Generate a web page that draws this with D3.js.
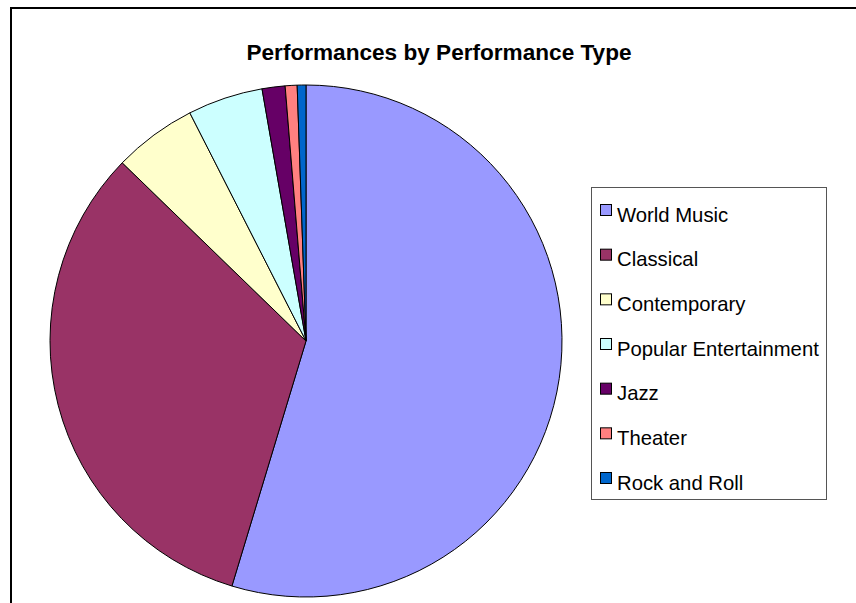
<!DOCTYPE html>
<html>
<head>
<meta charset="utf-8">
<script src="https://cdn.jsdelivr.net/npm/d3@7"></script>
<style>
  html, body { margin: 0; padding: 0; background: #fff; }
  svg { display: block; font-family: Arial, "Liberation Sans", sans-serif; }
</style>
</head>
<body>
<svg id="chart" width="856" height="603"></svg>
<script>
// Share of performances by type (percent)
const categories = ["World Music", "Classical", "Contemporary", "Popular Entertainment", "Jazz", "Theater", "Rock and Roll"];
const values = [54.7, 32.6, 5.25, 4.75, 1.45, 0.75, 0.55];
const colors = ["#9999FF", "#993366", "#FFFFCC", "#CCFFFF", "#660066", "#FF8080", "#0066CC"];
const title = "Performances by Performance Type";

const svg = d3.select("#chart");

// Chart area frame (runs off the right and bottom edges)
svg.append("rect")
  .attr("x", 11).attr("y", 8)
  .attr("width", 900).attr("height", 700)
  .attr("fill", "none").attr("stroke", "#000").attr("stroke-width", 2);

svg.append("text")
  .attr("x", 439).attr("y", 60)
  .attr("text-anchor", "middle")
  .attr("font-size", 22.6).attr("font-weight", "bold")
  .text(title);

const data = categories.map((c, i) => ({ name: c, value: values[i], color: colors[i] }));

const pie = d3.pie().value(d => d.value).sort(null);
const arc = d3.arc().innerRadius(0).outerRadius(256);

const g = svg.append("g").attr("transform", "translate(306,341)");
g.selectAll("path")
  .data(pie(data))
  .join("path")
  .attr("d", arc)
  .attr("fill", d => d.data.color)
  .attr("stroke", "#000")
  .attr("stroke-width", 1)
  .attr("stroke-linejoin", "round");

// Legend
const legend = svg.append("g");
legend.append("rect")
  .attr("x", 591.5).attr("y", 187.5)
  .attr("width", 235).attr("height", 312)
  .attr("fill", "#fff").attr("stroke", "#555").attr("stroke-width", 1);

const rowY = d3.scaleLinear().domain([0, categories.length - 1]).range([204, 472]);

const items = legend.selectAll("g.item")
  .data(data)
  .join("g")
  .attr("class", "item")
  .attr("transform", (d, i) => `translate(0,${rowY(i)})`);

items.append("rect")
  .attr("x", 600.5).attr("y", 0.5)
  .attr("width", 11).attr("height", 11)
  .attr("fill", d => d.color)
  .attr("stroke", "#000").attr("stroke-width", 1);

items.append("text")
  .attr("x", 617).attr("y", 17.5)
  .attr("font-size", 20.3)
  .attr("fill", "#000")
  .text(d => d.name);
</script>
</body>
</html>
